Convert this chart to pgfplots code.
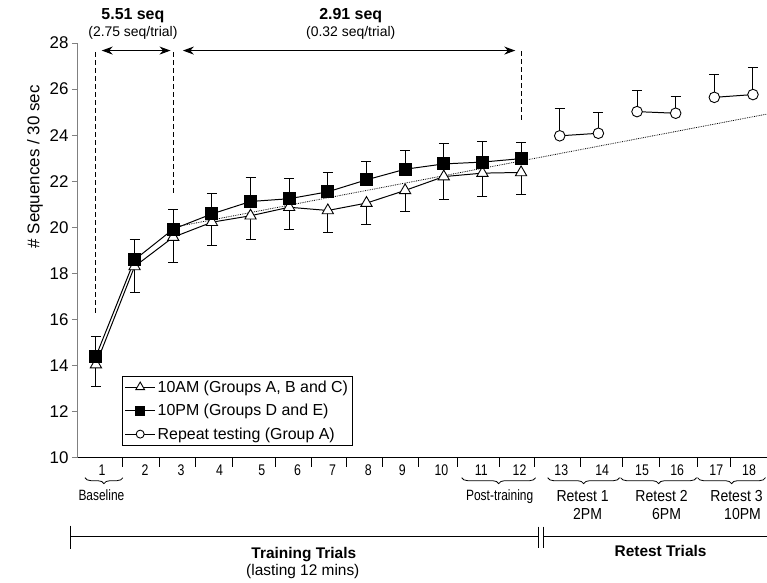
\documentclass[border=0pt]{standalone}
\usepackage{fontspec}
\setmainfont{Liberation Sans}
\newfontfamily\narrowfont[FakeStretch=0.8]{Liberation Sans}
\newfontfamily\midfont[FakeStretch=0.88]{Liberation Sans}
\usepackage{pgfplots}
\pgfplotsset{compat=1.18}
\usetikzlibrary{arrows.meta,decorations.pathreplacing}
\newcommand{\fs}[1]{\fontsize{#1}{#1}\selectfont}

\begin{document}
\begin{tikzpicture}[pix/.style={x=1bp,y=-1bp,shift={(-77bp,458bp)}}]
\begin{scope}[pix]
  \path[use as bounding box] (0,0) rectangle (767,583);
\end{scope}
\begin{axis}[
    at={(0,0)}, anchor=south west,
    scale only axis, width=690bp, height=415bp,
    xmin=0.509, xmax=18.35, ymin=10, ymax=28,
    axis x line*=bottom, axis y line*=left,
    x axis line style={black, line width=1pt},
    y axis line style={gray, line width=0.8pt},
    tick align=outside, major tick length=5bp,
    ytick={10,12,...,28},
    y tick style={gray, line width=0.8pt},
    yticklabel style={font=\fs{17}},
    /pgf/number format/assume math mode=true,
    xtick={1.16,2.27,3.20,4.20,5.29,6.22,7.12,8.05,8.93,9.94,10.97,11.96,13.04,14.10,15.13,16.04,17.05,17.90},
    xticklabels={1,2,3,4,5,6,7,8,9,10,11,12,13,14,15,16,17,18},
    x tick style={draw=none},
    xticklabel style={font=\narrowfont\fs{15.5}, yshift=1bp},
    extra x ticks={1.70,2.65,3.58,4.54,5.65,6.58,7.49,8.42,9.35,10.35,11.44,12.34,13.53,14.62,15.57,16.56,17.43},
    extra x tick labels={},
    extra x tick style={major tick length=9bp, x tick style={draw=black, line width=1pt}},
    clip=false,
    legend cell align=left,
    legend style={at={(0.0652,0.1976)}, anchor=north west, draw=black, line width=0.6pt,
        font=\fs{16}, inner sep=2.5bp, row sep=6.5bp, nodes={inner sep=2bp}},
    legend image code/.code={\draw[mark repeat=2, mark phase=2] plot coordinates {(0bp,0bp) (15bp,0bp) (30bp,0bp)};},
    error bars/error bar style={black, line width=1pt},
    error bars/error mark options={black, rotate=90, mark size=5bp, line width=1pt},
]
% trend line (0.32 seq/trial)
\addplot[black, densely dotted, line width=0.8pt, forget plot] coordinates {(3,20.0) (18.35,24.91)};

\addplot[black, line width=1pt, mark=triangle*, mark size=6.5bp,
    mark options={fill=white, line width=0.9pt}, legend image post style={mark size=5bp},
    error bars/.cd, y dir=minus, y explicit] coordinates {
    (1,14.04) +- (0,0.97)
    (2,18.30) +- (0,1.11)
    (3,19.57) +- (0,1.10)
    (4,20.22) +- (0,1.02)
    (5,20.50) +- (0,1.01)
    (6,20.87) +- (0,0.98)
    (7,20.73) +- (0,0.96)
    (8,21.05) +- (0,0.94)
    (9,21.60) +- (0,0.92)
    (10,22.20) +- (0,1.01)
    (11,22.35) +- (0,1.02)
    (12,22.38) +- (0,0.97)
};
\addlegendentry{10AM (Groups A, B and C)}

\addplot[black, line width=1pt, mark=square*, mark size=6bp,
    mark options={fill=black}, legend image post style={mark size=4.5bp},
    error bars/.cd, y dir=plus, y explicit] coordinates {
    (1,14.40) +- (0,0.86)
    (2,18.59) +- (0,0.87)
    (3,19.92) +- (0,0.87)
    (4,20.58) +- (0,0.90)
    (5,21.12) +- (0,1.04)
    (6,21.24) +- (0,0.88)
    (7,21.54) +- (0,0.84)
    (8,22.06) +- (0,0.78)
    (9,22.52) +- (0,0.81)
    (10,22.75) +- (0,0.90)
    (11,22.83) +- (0,0.91)
    (12,22.98) +- (0,0.70)
};
\addlegendentry{10PM (Groups D and E)}

\addplot[black, line width=1pt, mark=*, mark size=5.3bp,
    mark options={fill=white, line width=0.9pt}, legend image post style={mark size=4bp},
    error bars/.cd, y dir=plus, y explicit] coordinates {
    (13,23.97) +- (0,1.17)
    (14,24.08) +- (0,0.92)
};
\addlegendentry{Repeat testing (Group A)}
\addplot[black, line width=1pt, mark=*, mark size=5.3bp, forget plot,
    mark options={fill=white, line width=0.9pt},
    error bars/.cd, y dir=plus, y explicit] coordinates {
    (15,25.02) +- (0,0.90)
    (16,24.95) +- (0,0.72)
};
\addplot[black, line width=1pt, mark=*, mark size=5.3bp, forget plot,
    mark options={fill=white, line width=0.9pt},
    error bars/.cd, y dir=plus, y explicit] coordinates {
    (17,25.64) +- (0,1.00)
    (18,25.76) +- (0,1.17)
};

% dashed markers and arrows
\draw[line width=1pt, dash pattern=on 5bp off 3bp] (axis cs:1,16.3) -- (axis cs:1,27.7);
\draw[line width=1pt, dash pattern=on 5bp off 3bp] (axis cs:3,21.5) -- (axis cs:3,27.7);
\draw[line width=1pt, dash pattern=on 5bp off 3bp] (axis cs:12,24.66) -- (axis cs:12,27.7);
\draw[line width=1.1pt, {Stealth[length=11bp,width=8bp]}-{Stealth[length=11bp,width=8bp]}]
    (axis cs:1.15,27.67) -- (axis cs:2.93,27.67);
\draw[line width=1.1pt, {Stealth[length=11bp,width=8bp]}-{Stealth[length=11bp,width=8bp]}]
    (axis cs:3.25,27.67) -- (axis cs:11.85,27.67);
\end{axis}

\begin{scope}[pix]
  % top annotations
  \node[font=\bfseries\fs{16}, anchor=base] at (133,20) {5.51 seq};
  \node[font=\fs{14}, anchor=base] at (133,37) {(2.75 seq/trial)};
  \node[font=\bfseries\fs{16}, anchor=base] at (351,20) {2.91 seq};
  \node[font=\fs{14}, anchor=base] at (351,37) {(0.32 seq/trial)};
  % y label
  \node[rotate=90, font=\fs{17}] at (35,167) {\# Sequences / 30 sec};
  % braces
  \draw[line width=0.8pt, decorate, decoration={brace, mirror, amplitude=6bp}] (85,478) -- (123,478);
  \draw[line width=0.8pt, decorate, decoration={brace, mirror, amplitude=6bp}] (462,478) -- (536,478);
  \draw[line width=0.8pt, decorate, decoration={brace, mirror, amplitude=6bp}] (548,478) -- (620,478);
  \draw[line width=0.8pt, decorate, decoration={brace, mirror, amplitude=6bp}] (621,478) -- (697,478);
  \draw[line width=0.8pt, decorate, decoration={brace, mirror, amplitude=6bp}] (698,478) -- (766,478);
  % group labels
  \node[font=\narrowfont\fs{15}, anchor=base] at (101.5,501) {Baseline};
  \node[font=\narrowfont\fs{15}, anchor=base] at (500,501) {Post-training};
  \node[font=\midfont\fs{16}, anchor=base] at (583,502) {Retest 1};
  \node[font=\midfont\fs{16}, anchor=base] at (588,520) {2PM};
  \node[font=\midfont\fs{16}, anchor=base] at (662,502) {Retest 2};
  \node[font=\midfont\fs{16}, anchor=base] at (667,520) {6PM};
  \node[font=\midfont\fs{16}, anchor=base] at (737,502) {Retest 3};
  \node[font=\midfont\fs{16}, anchor=base] at (743,520) {10PM};
  % timeline
  \draw[line width=1pt] (71,526) -- (71,549);
  \draw[line width=1pt] (71,537) -- (539,537);
  \draw[line width=1pt] (539,527) -- (539,548);
  \draw[line width=1pt] (544,527) -- (544,548);
  \draw[line width=1pt] (544,537) -- (767,537);
  \node[font=\bfseries\fs{15.5}, anchor=base] at (304,559) {Training Trials};
  \node[font=\fs{15.5}, anchor=base] at (303,576) {(lasting 12 mins)};
  \node[font=\bfseries\fs{15.5}, anchor=base] at (661,557) {Retest Trials};
\end{scope}
\end{tikzpicture}
\end{document}
